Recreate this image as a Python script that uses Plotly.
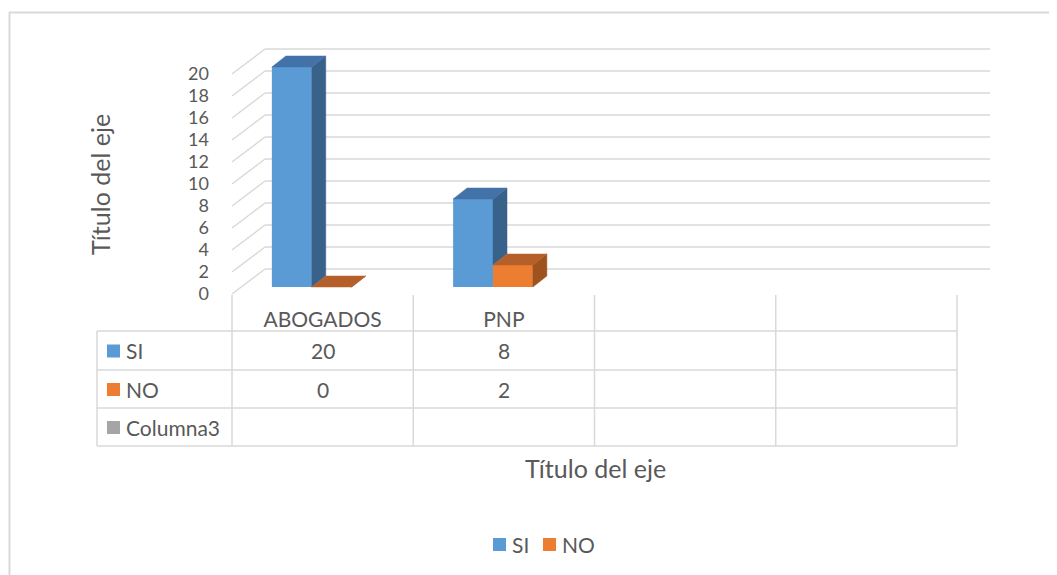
import plotly.graph_objects as go

# data
categories = ["ABOGADOS", "PNP"]
empty_columns = 2
si_values = [20, 8]
no_values = [0, 2]
y_ticks = [0, 2, 4, 6, 8, 10, 12, 14, 16, 18, 20]
row_names = ["SI", "NO", "Columna3"]
axis_title = "Título del eje"

W, H = 1057, 575
OFF = 8                      # page body margin, figure starts at (8, 8)
FW, FH = W - OFF, H - OFF
FONT = "Lato"
TXT = "#595959"
GRID = "#D9D9D9"

# pixel <-> axis geometry (3d look faked in 2d), pixels are page coords
COL_PX = 181.25
LEFT_PX = 232
ZERO_PX = 294
UNIT_PX = 11
DX, DY = 33 / COL_PX, 25 / UNIT_PX          # floor depth
BASE = 7 / UNIT_PX                           # bars sit a bit back on the floor
BAR_W = 0.22
BDX, BDY = 14 / COL_PX, 11 / UNIT_PX         # bar depth
n_cols = len(categories) + empty_columns

colors = {
    "SI": ("#5B9BD5", "#38628A", "#4272A8"),
    "NO": ("#ED7D31", "#9E521E", "#B5602A"),
}


def px(x):
    return (x - OFF) / FW


def py(y):
    return 1 - (y - OFF) / FH


def faces(values, offset, hidden=None):
    sx, sy, tx, ty = [], [], [], []
    for i, v in enumerate(values):
        x0 = i + offset
        x1 = x0 + BAR_W
        low = BASE + (min(hidden[i], v) if hidden else 0)
        top = BASE + v
        sx += [x1, x1 + BDX, x1 + BDX, x1, x1, None]
        sy += [low, low + BDY, top + BDY, top, low, None]
        tx += [x0, x0 + BDX, x1 + BDX, x1, x0, None]
        ty += [top, top + BDY, top + BDY, top, top, None]
    return sx, sy, tx, ty


fig = go.Figure()
x_idx = list(range(len(categories)))
series = [("SI", si_values, -0.28, no_values), ("NO", no_values, -0.06, None)]

for name, vals, off, hid in series:
    fig.add_trace(go.Bar(x=x_idx, y=vals, base=BASE, offset=off, width=BAR_W, name=name,
                         marker=dict(color=colors[name][0], line=dict(width=0)), showlegend=False))

for name, vals, off, hid in series:
    front, side, top = colors[name]
    sx, sy, tx, ty = faces(vals, off, hid)
    fig.add_trace(go.Scatter(x=sx, y=sy, mode="lines", fill="toself", fillcolor=side,
                             line=dict(width=0.5, color=side), showlegend=False, hoverinfo="skip"))
    fig.add_trace(go.Scatter(x=tx, y=ty, mode="lines", fill="toself", fillcolor=top,
                             line=dict(width=0.5, color=top), showlegend=False, hoverinfo="skip"))

shapes = []
# side wall + back wall grid
for v in y_ticks:
    shapes.append(dict(type="line", xref="x", yref="y", x0=-0.5, y0=v, x1=-0.5 + DX, y1=v + DY,
                       line=dict(color=GRID, width=1.5), layer="below"))
    shapes.append(dict(type="line", xref="x", yref="y", x0=-0.5 + DX, y0=v + DY,
                       x1=n_cols - 0.5 + DX, y1=v + DY, line=dict(color=GRID, width=1.5), layer="below"))

# data table
row_y = [331, 370, 408, 446]
for k in range(n_cols + 1):
    shapes.append(dict(type="line", xref="x", yref="paper", x0=k - 0.5, x1=k - 0.5,
                       y0=py(295), y1=py(row_y[-1]), line=dict(color=GRID, width=1.5)))
shapes.append(dict(type="line", xref="paper", yref="paper", x0=px(97), x1=px(97),
                   y0=py(row_y[0]), y1=py(row_y[-1]), line=dict(color=GRID, width=1.5)))
for ry in row_y:
    shapes.append(dict(type="line", xref="paper", yref="paper",
                       x0=px(97), x1=px(LEFT_PX + COL_PX * n_cols), y0=py(ry), y1=py(ry),
                       line=dict(color=GRID, width=1.5)))

# outer chart border (only top/left are in view)
shapes.append(dict(type="line", xref="paper", yref="paper", x0=px(9.5), x1=px(9.5), y0=py(12), y1=0,
                   line=dict(color=GRID, width=2)))
shapes.append(dict(type="line", xref="paper", yref="paper", x0=px(9), x1=1, y0=py(12.5), y1=py(12.5),
                   line=dict(color=GRID, width=2)))

key_colors = [colors["SI"][0], colors["NO"][0], "#A5A5A5"]
annotations = []
for r, name in enumerate(row_names):
    cy = (row_y[r] + row_y[r + 1]) / 2
    shapes.append(dict(type="rect", xref="paper", yref="paper", x0=px(107), x1=px(120),
                       y0=py(cy - 6), y1=py(cy + 7), fillcolor=key_colors[r], line=dict(width=0)))
    annotations.append(dict(x=px(124), y=py(cy), xref="paper", yref="paper", text=name,
                            showarrow=False, xanchor="left", yanchor="middle"))

for r, vals in enumerate([si_values, no_values]):
    cy = (row_y[r] + row_y[r + 1]) / 2
    for i, v in enumerate(vals):
        annotations.append(dict(x=i, y=py(cy), xref="x", yref="paper", text=str(v),
                                showarrow=False, yanchor="middle"))

annotations.append(dict(x=px(595), y=py(468), xref="paper", yref="paper", text=axis_title,
                        showarrow=False, yanchor="middle", font=dict(size=25)))
annotations.append(dict(x=px(100), y=py(185), xref="paper", yref="paper", text=axis_title,
                        showarrow=False, textangle=-90, xanchor="center", yanchor="middle",
                        font=dict(size=25)))

# legend
for name, lx in [("SI", 493), ("NO", 543)]:
    shapes.append(dict(type="rect", xref="paper", yref="paper", x0=px(lx), x1=px(lx + 13),
                       y0=py(551), y1=py(538), fillcolor=colors[name][0], line=dict(width=0)))
    annotations.append(dict(x=px(lx + 17), y=py(544), xref="paper", yref="paper", text=name,
                            showarrow=False, xanchor="left", yanchor="middle"))

fig.update_layout(
    width=FW, height=FH,
    margin=dict(l=0, r=0, t=0, b=0),
    paper_bgcolor="white", plot_bgcolor="white",
    font=dict(family=FONT, size=21, color=TXT),
    barmode="overlay",
    shapes=shapes, annotations=annotations,
    xaxis=dict(range=[-0.5 - (LEFT_PX - OFF) / COL_PX, -0.5 + (W - LEFT_PX) / COL_PX],
               tickvals=x_idx, ticktext=categories, showgrid=False, zeroline=False,
               showline=False, ticks="", anchor="free", position=py(305), fixedrange=True),
    yaxis=dict(range=[(ZERO_PX - H) / UNIT_PX, (ZERO_PX - OFF) / UNIT_PX], tickvals=y_ticks,
               tickfont=dict(size=18),
               showgrid=False, zeroline=False, showline=False, ticks="",
               anchor="free", position=px(LEFT_PX), ticklabelstandoff=23, fixedrange=True),
)

fig.write_html("out.html")
